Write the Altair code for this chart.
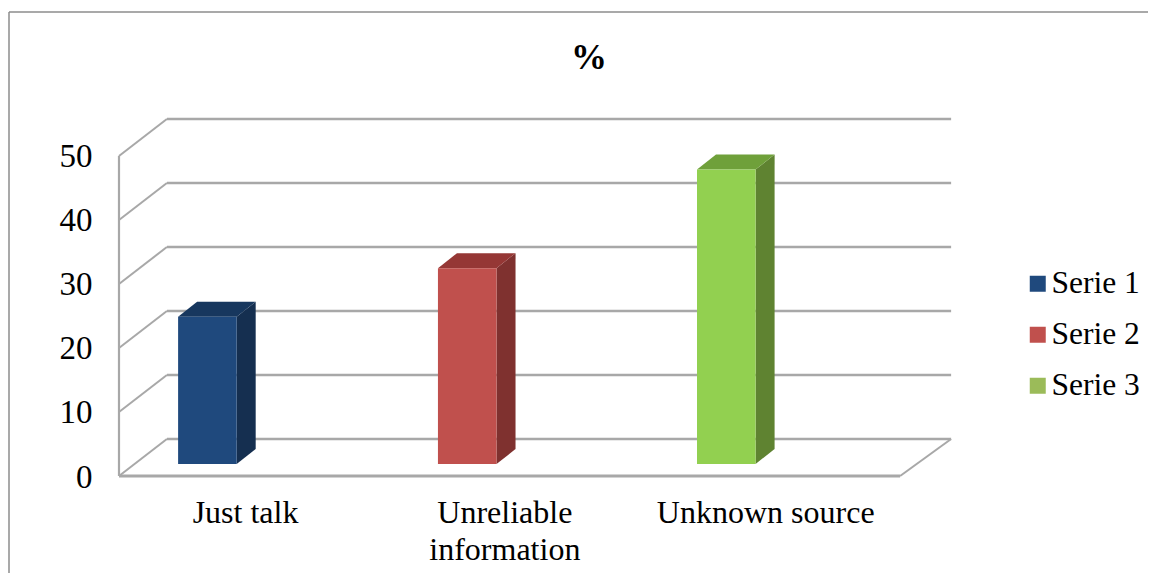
import altair as alt
import pandas as pd

categories = ["Just talk", "Unreliable information", "Unknown source"]
series = ["Serie 1", "Serie 2", "Serie 3"]
values = [23.0, 30.6, 46.0]
front_colors = ["#1F497D", "#C0504D", "#92D050"]
side_colors = ["#152F50", "#7F312F", "#5F8331"]
top_colors = ["#17375E", "#953735", "#6FA03A"]
legend_colors = ["#1F497D", "#C0504D", "#9BBB59"]
ticks = [0, 10, 20, 30, 40, 50]
chart_title = ["%"]

# Pseudo-3D geometry, expressed in data units of the two scales
WALL_DX, WALL_DY = 0.184, 5.78      # depth of the chart box
BACK_END = 3.196                    # where the back wall stops on the x scale
BAR_DX, BAR_DY = 0.073, 2.34        # depth of each bar
BAR_LIFT = 1.875                    # bars stand part-way into the floor
BAR_LEFT = [0.227, 1.225, 2.22]
BAR_W = 0.225
N = len(categories)

FONT = "Liberation Serif"
GRID = "#A8A8A8"

X = alt.Scale(domain=[0, N + WALL_DX], range=[0, 829], nice=False, zero=False)
Y = alt.Scale(domain=[0, 50 + WALL_DY], range=[357, 0], nice=False, zero=False)

segs = []
for t in ticks:
    segs.append(dict(x=WALL_DX, x2=BACK_END, y=t + WALL_DY, y2=t + WALL_DY, w=2.6))
    segs.append(dict(x=0, x2=WALL_DX, y=t, y2=t + WALL_DY, w=2))
segs.append(dict(x=0, x2=0, y=0, y2=50, w=2.2))
segs.append(dict(x=0, x2=N, y=0, y2=0, w=3))
segs.append(dict(x=N, x2=BACK_END, y=0, y2=WALL_DY, w=2))
segs = pd.DataFrame(segs)

xe = alt.X("x:Q", scale=X, title=None, axis=alt.Axis(
    values=[0.484, 1.48, 2.482], domain=False, ticks=False, grid=False,
    labelFont=FONT, labelFontSize=32, labelColor="#000", labelPadding=21,
    labelLineHeight=37, labelBaseline="top", labelFlush=False, labelLimit=400,
    labelExpr="datum.value < 1 ? '%s' : datum.value < 2 ? ['Unreliable','information'] : '%s'"
              % (categories[0], categories[2])))
ye = alt.Y("y:Q", scale=Y, title=None, axis=alt.Axis(
    values=ticks, domain=False, ticks=False, grid=False, labelOffset=1,
    labelFont=FONT, labelFontSize=33, labelColor="#000", labelPadding=27))

grid = alt.Chart(segs).mark_rule(color=GRID).encode(
    x=xe, x2="x2:Q", y=ye, y2="y2:Q",
    strokeWidth=alt.StrokeWidth("w:Q", scale=None, legend=None))

front_rows, side_rows, top_rows = [], [], []
for i, v in enumerate(values):
    l = BAR_LEFT[i]
    r = l + BAR_W
    b = BAR_LIFT
    t = BAR_LIFT + v
    front_rows.append(dict(x=l, x2=r, y=b, y2=t, c=front_colors[i]))
    side_rows += [dict(x=r, y=t, y2=b, c=side_colors[i]),
                  dict(x=r + BAR_DX, y=t + BAR_DY, y2=b + BAR_DY, c=side_colors[i])]
    top_rows += [dict(y=t, x=l, x2=r, c=top_colors[i]),
                 dict(y=t + BAR_DY, x=l + BAR_DX, x2=r + BAR_DX, c=top_colors[i])]

fill = alt.Color("c:N", scale=None, legend=None)
fronts = alt.Chart(pd.DataFrame(front_rows)).mark_rect().encode(
    x=alt.X("x:Q", scale=X), x2="x2:Q", y=alt.Y("y:Q", scale=Y), y2="y2:Q", color=fill)
sides = alt.Chart(pd.DataFrame(side_rows)).mark_area(orient="vertical", opacity=1).encode(
    x=alt.X("x:Q", scale=X), y=alt.Y("y:Q", scale=Y), y2="y2:Q", color=fill)
tops = alt.Chart(pd.DataFrame(top_rows)).mark_area(orient="horizontal", opacity=1).encode(
    y=alt.Y("y:Q", scale=Y), x=alt.X("x:Q", scale=X), x2="x2:Q", color=fill)

legend_df = pd.DataFrame({"series": series, "x": [0.0] * N, "y": [0.0] * N})
legend_layer = alt.Chart(legend_df).mark_square(size=0, filled=True, opacity=1).encode(
    x=alt.X("x:Q", scale=X), y=alt.Y("y:Q", scale=Y),
    fill=alt.Fill("series:N", scale=alt.Scale(domain=series, range=legend_colors),
                  legend=alt.Legend(
                      title=None, orient="none", legendX=903, legendY=149,
                      symbolType="square", symbolSize=256, symbolStrokeWidth=0,
                      labelFont=FONT, labelFontSize=31.5, labelColor="#000",
                      labelOffset={"expr": "-2"}, rowPadding=18, labelLimit=200)))

frame = pd.DataFrame({"k": ["top", "left"]})
frame_top = alt.Chart(frame.head(1)).mark_rule(color="#8C8C8C", strokeWidth=1.5).encode(
    x=alt.value(-110), x2=alt.value(1037), y=alt.value(-107))
frame_left = alt.Chart(frame.tail(1)).mark_rule(color="#8C8C8C", strokeWidth=1.5).encode(
    x=alt.value(-110), y=alt.value(-107), y2=alt.value(454))

title_layer = alt.Chart(pd.DataFrame({"t": chart_title})).mark_text(
    font=FONT, fontSize=36, fontWeight="bold", color="#000", align="center", baseline="alphabetic"
).encode(text="t:N", x=alt.value(470), y=alt.value(-50))

chart = alt.layer(frame_top, frame_left, title_layer, grid, legend_layer, sides, tops, fronts).properties(
    width=829, height=357,
    autosize=alt.AutoSizeParams(type="none"),
    padding={"left": 111, "top": 111, "right": 200, "bottom": 97},
).configure_view(stroke=None)

chart.save("out.html", embed_options={"renderer": "svg", "actions": False})
